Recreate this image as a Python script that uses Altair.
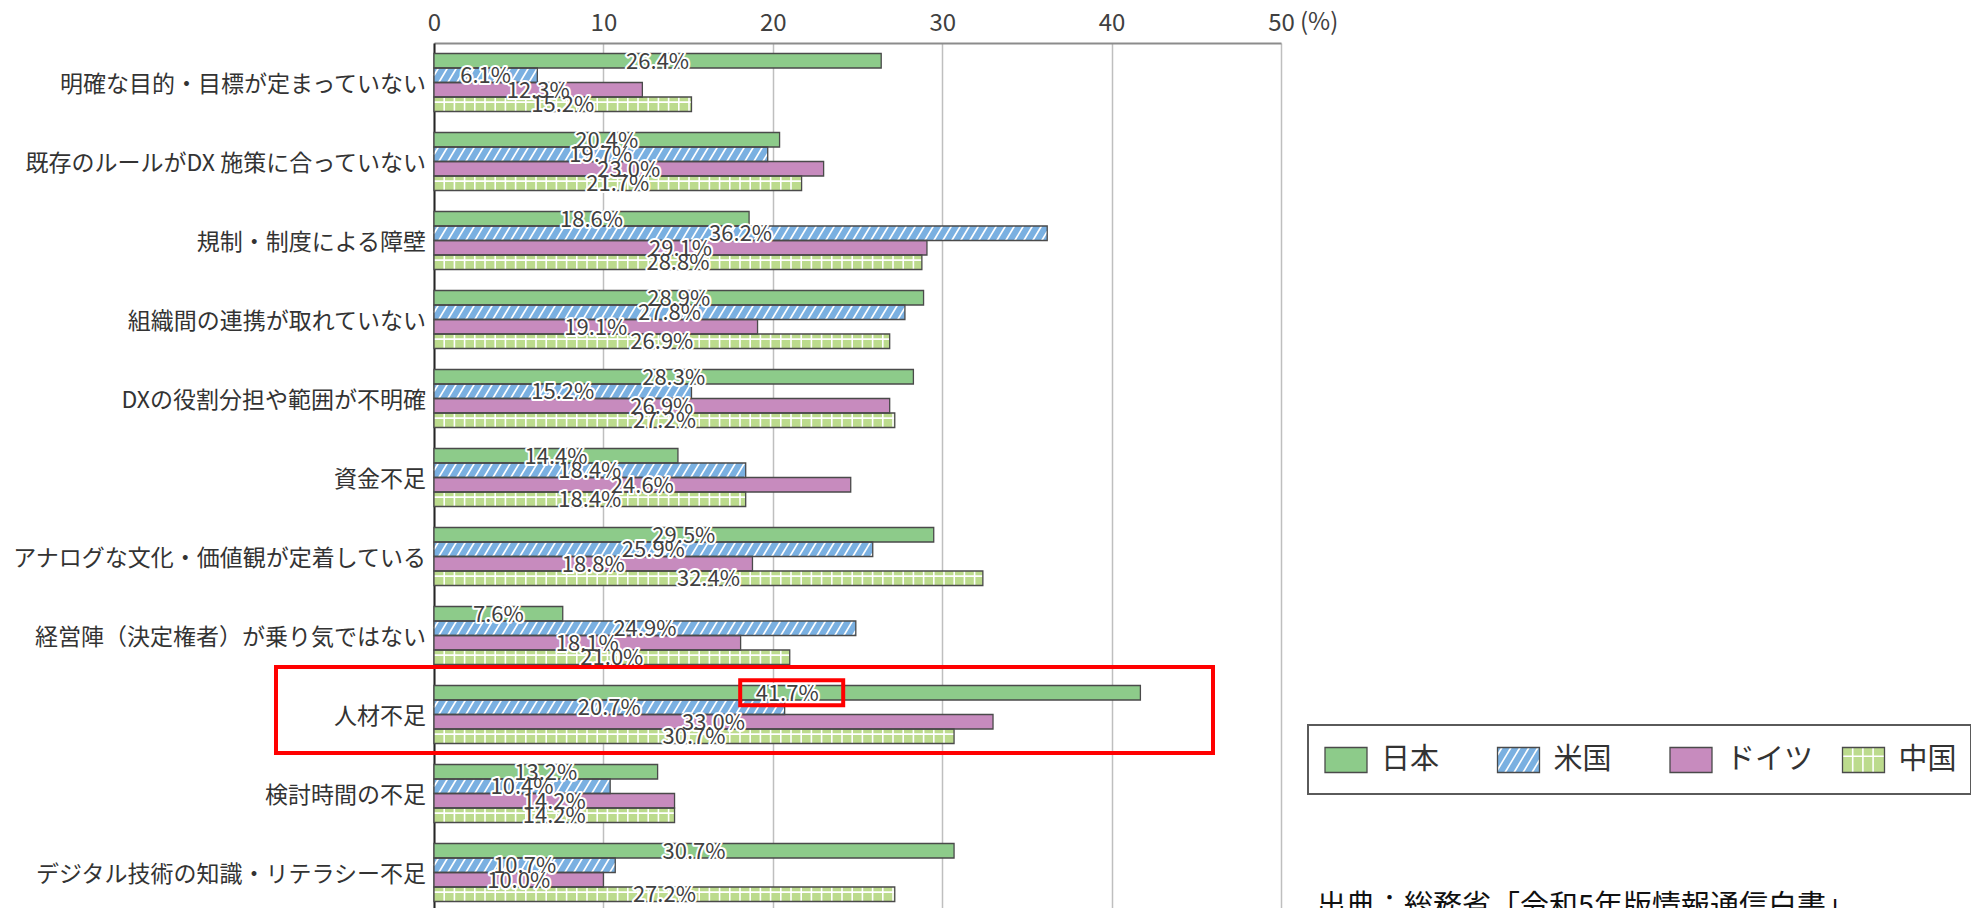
import altair as alt
import pandas as pd

# ---------------- data ----------------
categories = [
    "明確な目的・目標が定まっていない",
    "既存のルールがDX 施策に合っていない",
    "規制・制度による障壁",
    "組織間の連携が取れていない",
    "DXの役割分担や範囲が不明確",
    "資金不足",
    "アナログな文化・価値観が定着している",
    "経営陣（決定権者）が乗り気ではない",
    "人材不足",
    "検討時間の不足",
    "デジタル技術の知識・リテラシー不足",
]
series = ["日本", "米国", "ドイツ", "中国"]
japan = [26.4, 20.4, 18.6, 28.9, 28.3, 14.4, 29.5, 7.6, 41.7, 13.2, 30.7]
usa = [6.1, 19.7, 36.2, 27.8, 15.2, 18.4, 25.9, 24.9, 20.7, 10.4, 10.7]
germany = [12.3, 23.0, 29.1, 19.1, 26.9, 24.6, 18.8, 18.1, 33.0, 14.2, 10.0]
china = [15.2, 21.7, 28.8, 26.9, 27.2, 18.4, 32.4, 21.0, 30.7, 14.2, 27.2]
x_ticks = [0, 10, 20, 30, 40, 50]
unit_label = "(%)"
source_text = "出典：総務省「令和5年版情報通信白書」"
highlight_category = "人材不足"
highlight_series = "日本"

# ---------------- styles / layout ----------------
FONT = "Noto Sans CJK JP"
TEXT = "#404040"
fills = {"日本": "#8DCB8A", "米国": "#7AB0E1", "ドイツ": "#C78BBE", "中国": "#BCDB8D"}
patterns = {"日本": "", "米国": "diag", "ドイツ": "", "中国": "grid"}
values = {"日本": japan, "米国": usa, "ドイツ": germany, "中国": china}

W, H = 847, 869
N = len(categories)
XMAX = x_ticks[-1]
KX = W / XMAX          # px per x unit
KY = H / N             # px per category
BAR = 14.5 / KY        # bar thickness in category units


def xu(px):
    return px / KX


def yu(py):
    return py / KY - 0.5


rects = []
labels = []
for i, cat in enumerate(categories):
    for j, s in enumerate(series):
        v = values[s][i]
        yc = i + (j - 1.5) * BAR
        rects.append(dict(x0=0.0, x1=v, yt=yc - BAR / 2, yb=yc + BAR / 2,
                          fill=fills[s], pat=patterns[s]))
        labels.append(dict(cat=cat, series=s, lx=v / 2, ly=yc, label=f"{v:.1f}%"))

LEG_X0, LEG_STEP, SW_W, SW_H, LEG_CY = 891, 172.5, 42, 25, 717
leg_text = []
for j, s in enumerate(series):
    left = LEG_X0 + j * LEG_STEP
    rects.append(dict(x0=xu(left), x1=xu(left + SW_W), yt=yu(LEG_CY - SW_H / 2),
                      yb=yu(LEG_CY + SW_H / 2), fill=fills[s], pat=patterns[s]))
    leg_text.append(dict(lx=xu(left + SW_W + 14), ly=yu(LEG_CY), t=s))


def hatch(x0, x1, yt, yb, pat):
    out = []
    if pat == "diag":
        h_px = (yb - yt) * KY
        run = xu(h_px * 0.6)
        step = xu(9)
        t = x0 - run + step * 0.5
        while t < x1:
            a, b = t, t + run
            sa, sb = max(a, x0), min(b, x1)
            if sb - sa > 1e-6:
                fa, fb = (sa - a) / run, (sb - a) / run
                out.append(dict(x=sa, x2=sb, y=yb + fa * (yt - yb), y2=yb + fb * (yt - yb)))
            t += step
    elif pat == "grid":
        step = xu(10.2)
        t = x0 + step
        while t < x1 - xu(1.5):
            out.append(dict(x=t, x2=t, y=yt, y2=yb))
            t += step
        yh = yt + 0.35 * (yb - yt)
        out.append(dict(x=x0, x2=x1, y=yh, y2=yh))
    return out


hatches = []
for r in rects:
    hatches += hatch(r["x0"], r["x1"], r["yt"], r["yb"], r["pat"])

rect_df = pd.DataFrame(rects)
label_df = pd.DataFrame(labels)
hatch_df = pd.DataFrame(hatches)
leg_df = pd.DataFrame(leg_text)
cat_df = pd.DataFrame({"cat": categories, "idx": list(range(N))})

legbox_df = pd.DataFrame([dict(x0=xu(874), x1=xu(1537), yt=yu(682), yb=yu(751))])

hi_idx = categories.index(highlight_category)
hi_j = series.index(highlight_series)
hi_v = values[highlight_series][hi_idx]
hi_yc = hi_idx + (hi_j - 1.5) * BAR
red_df = pd.DataFrame([
    dict(x0=xu(-158), x1=xu(779), yt=hi_idx - 0.5 - 8 / KY, yb=hi_idx + 0.5 - 1 / KY),
    dict(x0=hi_v / 2 - xu(47), x1=hi_v / 2 + xu(56), yt=hi_yc - 12.5 / KY, yb=hi_yc + 12.5 / KY),
])

xscale = alt.Scale(domain=[0, XMAX], nice=False, zero=False)
yscale = alt.Scale(domain=[-0.5, N - 0.5], reverse=True, nice=False, zero=False)

x_axis = alt.Axis(orient="top", values=x_ticks, format="d", grid=True, gridColor="#BFBFBF",
                  gridWidth=1.5, domain=True, domainColor="#8C8C8C", domainWidth=2,
                  ticks=False, labelPadding=20, labelBaseline="middle",
                  labelFontSize=24, labelColor=TEXT, labelFont=FONT, labelFlush=False,
                  labelOverlap=False, title=None)
y_axis = alt.Axis(values=list(range(N)), labels=False, ticks=False, grid=False, domain=True,
                  domainColor="#262626", domainWidth=2, title=None)


def X(field, **kw):
    return alt.X(field, type="quantitative", scale=xscale, axis=x_axis, **kw)


def Y(field, **kw):
    return alt.Y(field, type="quantitative", scale=yscale, axis=y_axis, **kw)


def enc_rect():
    return dict(x=X("x0"), x2="x1", y=Y("yt"), y2="yb")


legbox = alt.Chart(legbox_df).mark_rect(fill="white", stroke="#5A5A5A", strokeWidth=2).encode(**enc_rect())

bars = alt.Chart(rect_df).mark_rect(strokeWidth=0).encode(
    color=alt.Color("fill:N", scale=None), **enc_rect())

hatch_layer = alt.Chart(hatch_df).mark_rule(color="white", strokeWidth=1.6).encode(
    x=X("x"), x2="x2", y=Y("y"), y2="y2")

outline = alt.Chart(rect_df).mark_rect(fillOpacity=0, stroke="#4A4A4A", strokeWidth=1.3).encode(**enc_rect())

cat_lab = alt.Chart(cat_df).mark_text(font=FONT, fontSize=23, color="#333333", align="right",
                                      baseline="middle", dy=2).encode(
    x=alt.value(-8), y=Y("idx"), text="cat:N")

lab_enc = dict(x=X("lx"), y=Y("ly"), text="label:N")
halo = alt.Chart(label_df).mark_text(font=FONT, fontSize=22, fill="white", stroke="white",
                                     strokeWidth=4, strokeJoin="round", baseline="middle",
                                     dy=1).encode(**lab_enc)
lab = alt.Chart(label_df).mark_text(font=FONT, fontSize=22, color=TEXT, baseline="middle",
                                    dy=1).encode(**lab_enc)

leg_lab = alt.Chart(leg_df).mark_text(font=FONT, fontSize=29, color="#333333", align="left",
                                      baseline="middle").encode(
    x=X("lx"), y=Y("ly"), text="t:N")

red = alt.Chart(red_df).mark_rect(fillOpacity=0, stroke="#FF0000", strokeWidth=4).encode(**enc_rect())

unit = alt.Chart(pd.DataFrame({"t": [unit_label]})).mark_text(
    font=FONT, fontSize=24, color=TEXT, align="left", baseline="middle", dx=19).encode(
    x=alt.X(datum=XMAX, type="quantitative", scale=xscale, axis=x_axis),
    y=alt.value(-20), text="t:N")

src = alt.Chart(pd.DataFrame({"t": [source_text]})).mark_text(
    font=FONT, fontSize=29, color="#111111", align="left", baseline="top").encode(
    x=alt.value(883), y=alt.value(850), text="t:N")

chart = alt.layer(legbox, bars, hatch_layer, outline, cat_lab, halo, lab, leg_lab, red, unit, src).properties(
    width=W, height=H,
    padding={"left": 426, "top": 35, "right": 690, "bottom": 20},
    autosize=alt.AutoSizeParams(type="none"),
    background="white",
).configure_view(strokeWidth=0)

chart.save("out.html", embed_options={"renderer": "svg", "actions": False})
